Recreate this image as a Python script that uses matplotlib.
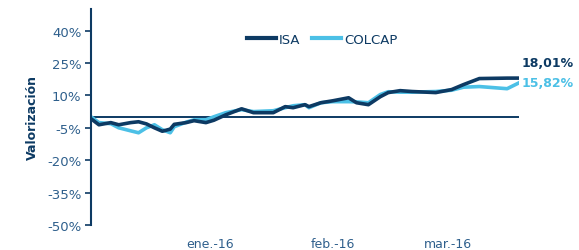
import matplotlib
matplotlib.use("Agg")
import matplotlib.pyplot as plt
import pandas as pd

dates = ["2015-12-02", "2015-12-04", "2015-12-07", "2015-12-09", "2015-12-12",
         "2015-12-14", "2015-12-16", "2015-12-18", "2015-12-20", "2015-12-22",
         "2015-12-23", "2015-12-26", "2015-12-28", "2015-12-31", "2016-01-02",
         "2016-01-05", "2016-01-09", "2016-01-12", "2016-01-17", "2016-01-20",
         "2016-01-22", "2016-01-25", "2016-01-26", "2016-01-29", "2016-02-01",
         "2016-02-05", "2016-02-07", "2016-02-10", "2016-02-13", "2016-02-15",
         "2016-02-18", "2016-02-21", "2016-02-27", "2016-03-02", "2016-03-05",
         "2016-03-09", "2016-03-16", "2016-03-19"]
isa = [-0.8, -3.6, -2.6, -3.6, -2.6, -2.2, -3.2, -5.0, -6.6, -5.6,
       -3.4, -2.6, -1.7, -2.6, -1.5, 1.0, 3.8, 2.0, 2.0, 4.8,
       4.3, 5.7, 4.8, 6.6, 7.5, 8.9, 6.6, 5.7, 9.4, 11.3,
       12.2, 11.8, 11.3, 12.7, 15.0, 17.8, 18.0, 18.01]
colcap = [0.1, -2.6, -3.1, -5.0, -6.4, -7.3, -5.0, -3.6, -5.9, -7.3,
          -4.5, -2.4, -1.3, -1.3, 0.1, 2.0, 3.4, 2.5, 2.9, 4.3,
          5.2, 5.7, 4.3, 6.6, 7.1, 7.1, 7.0, 6.6, 10.4, 11.7,
          11.5, 11.5, 11.8, 12.4, 13.8, 14.1, 13.1, 15.82]
series_names = ["ISA", "COLCAP"]
yticks = [-50, -35, -20, -5, 10, 25, 40]
month_ticks = ["2016-01-01", "2016-02-01", "2016-03-01"]
month_labels = ["ene.-16", "feb.-16", "mar.-16"]
end_labels = ["18,01%", "15,82%"]

dark = "#0d3a63"
light = "#4cc0e6"
txt = "#2e5f8c"

x = pd.to_datetime(dates)
fig = plt.figure(figsize=(5.79, 2.51), dpi=100)
ax = fig.add_axes([91/579, 1-226/251, 428/579, 216/251])

ax.axhline(0, color=dark, lw=1.4, zorder=1)
ax.plot(x, isa, color=dark, lw=2.6, label=series_names[0], zorder=3)
ax.plot(x, colcap, color=light, lw=2.6, label=series_names[1], zorder=2)

ax.set_xlim(x[0], x[-1])
ax.set_ylim(-50, 50)
ax.set_yticks(yticks)
ax.set_yticklabels([f"{v}%" for v in yticks], color=txt, fontsize=9.5)
ax.set_xticks(pd.to_datetime(month_ticks))
ax.set_xticklabels(month_labels, color=txt, fontsize=9)
ax.tick_params(axis="x", length=0, pad=9)
ax.tick_params(axis="y", length=4, width=1.2, color=dark, pad=3)
for s in ["top", "right", "bottom"]:
    ax.spines[s].set_visible(False)
ax.spines["left"].set_color(dark)
ax.spines["left"].set_linewidth(1.5)
ax.set_ylabel("Valorización", color=dark, fontsize=9, fontweight="bold", labelpad=6)

leg = ax.legend(loc="center", bbox_to_anchor=(0.54, 0.86), ncol=2, frameon=False,
                fontsize=9.5, handlelength=2.2, handletextpad=0.2, columnspacing=0.9)
for line in leg.get_lines():
    line.set_linewidth(3)
for t in leg.get_texts():
    t.set_color(dark)

ax.annotate(end_labels[0], xy=(x[-1], isa[-1]), xytext=(2, 11), textcoords="offset points",
            color=dark, fontsize=9, fontweight="bold", va="center", ha="left",
            annotation_clip=False)
ax.annotate(end_labels[1], xy=(x[-1], colcap[-1]), xytext=(1.5, 0), textcoords="offset points",
            color=light, fontsize=9, fontweight="bold", va="center", ha="left",
            annotation_clip=False)

fig.savefig("out.png", dpi=100)
